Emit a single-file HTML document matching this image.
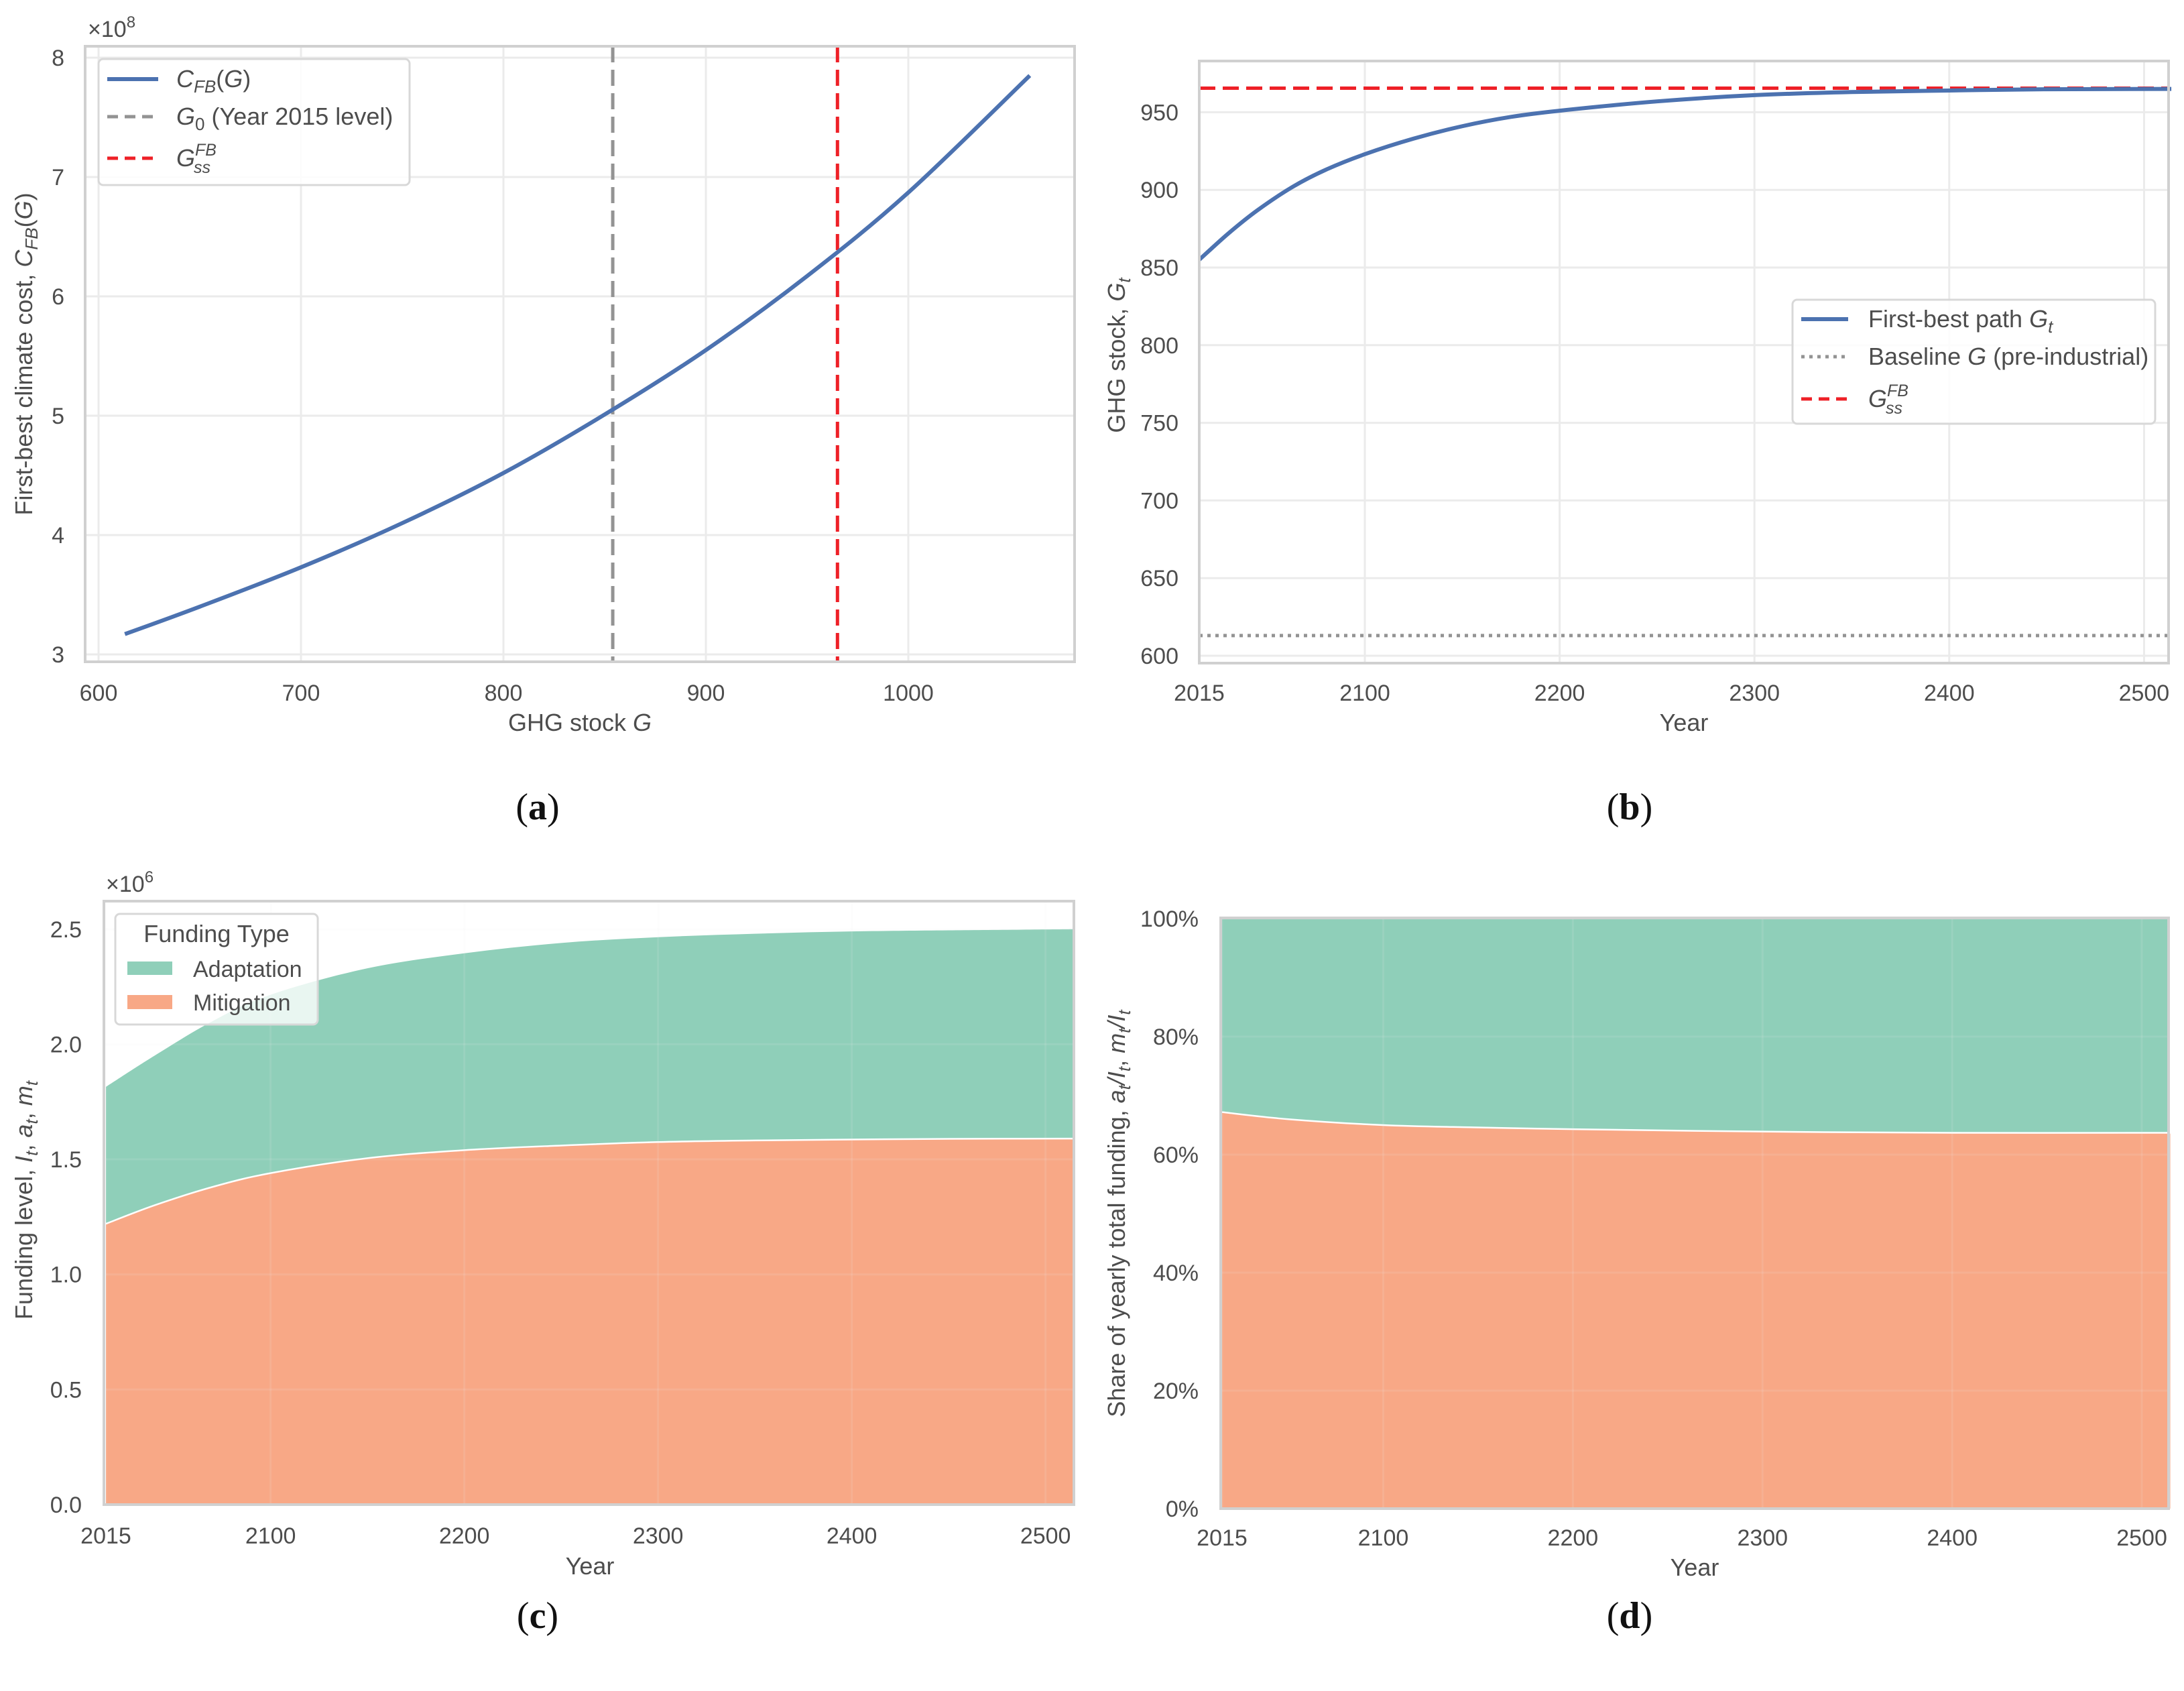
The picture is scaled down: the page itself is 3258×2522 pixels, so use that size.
<!DOCTYPE html>
<html><head><meta charset="utf-8"><style>
html,body{margin:0;padding:0;background:#fff;}
svg{display:block;font-family:"Liberation Sans",sans-serif;}
.tk{font-size:34px;fill:#4d4d4d;}
.lb{font-size:36px;fill:#4d4d4d;}
.cap{font-family:"Liberation Serif",serif;font-size:56px;fill:#111;}
</style></head><body>
<svg id="fig" width="3258" height="2522" viewBox="0 0 3258 2522" xmlns="http://www.w3.org/2000/svg">
<g id="ga"></g>
<g id="gb"></g>
<g id="gc"></g>
<g id="gd"></g>
<text class="cap" x="802" y="1222" text-anchor="middle">(<tspan font-weight="bold">a</tspan>)</text>
<text class="cap" x="2431" y="1222" text-anchor="middle">(<tspan font-weight="bold">b</tspan>)</text>
<text class="cap" x="802" y="2428" text-anchor="middle">(<tspan font-weight="bold">c</tspan>)</text>
<text class="cap" x="2431" y="2428" text-anchor="middle">(<tspan font-weight="bold">d</tspan>)</text>
</svg>
<script>
// Panel (a) data
const aG = [613, 650, 700, 750, 800, 850, 900, 950, 1000, 1060];
const aCost = [3.17, 3.40, 3.73, 4.10, 4.52, 5.01, 5.55, 6.17, 6.87, 7.85];
const aXTicks = [600, 700, 800, 900, 1000];
const aYTicks = [3, 4, 5, 6, 7, 8];
const aG0 = 854;
const aGss = 965;
// Panel (b) data
const bYears = [2015, 2030, 2045, 2063, 2080, 2100, 2125, 2150, 2175, 2200, 2250, 2300, 2350, 2400, 2450, 2514];
const bG = [855, 872, 887, 902, 913, 923, 933, 941, 947, 951, 957, 961, 963, 964, 964.8, 965];
const bXTicks = [2015, 2100, 2200, 2300, 2400, 2500];
const bYTicks = [600, 650, 700, 750, 800, 850, 900, 950];
const bBaseline = 613;
const bGss = 965.5;
// Panel (c) data (x1e6)
const cYears = [2015, 2040, 2070, 2100, 2150, 2200, 2250, 2300, 2350, 2400, 2450, 2515];
const cMit = [1.22, 1.30, 1.38, 1.44, 1.505, 1.54, 1.56, 1.575, 1.582, 1.586, 1.589, 1.59];
const cTotal = [1.815, 1.95, 2.10, 2.215, 2.33, 2.395, 2.44, 2.465, 2.48, 2.49, 2.495, 2.50];
const cXTicks = [2015, 2100, 2200, 2300, 2400, 2500];
const cYTicks = [0, 0.5, 1.0, 1.5, 2.0, 2.5];
// Panel (d) data (mitigation share, %)
const dYears = [2015, 2050, 2100, 2150, 2200, 2300, 2400, 2515];
const dMitShare = [67.2, 66.0, 65.0, 64.6, 64.3, 63.9, 63.7, 63.7];
const dXTicks = [2015, 2100, 2200, 2300, 2400, 2500];
const dYTicks = [0, 20, 40, 60, 80, 100];

const NS = "http://www.w3.org/2000/svg";
function mk(parent, tag, attrs, text) {
  const e = document.createElementNS(NS, tag);
  for (const k in attrs) e.setAttribute(k, attrs[k]);
  if (text !== undefined) e.textContent = text;
  parent.appendChild(e);
  return e;
}
function smooth(pts) {
  let d = "M" + pts[0][0] + "," + pts[0][1];
  for (let i = 0; i < pts.length - 1; i++) {
    const p0 = pts[Math.max(0, i - 1)], p1 = pts[i], p2 = pts[i + 1], p3 = pts[Math.min(pts.length - 1, i + 2)];
    const c1 = [p1[0] + (p2[0] - p0[0]) / 6, p1[1] + (p2[1] - p0[1]) / 6];
    const c2 = [p2[0] - (p3[0] - p1[0]) / 6, p2[1] - (p3[1] - p1[1]) / 6];
    d += " C" + c1[0] + "," + c1[1] + " " + c2[0] + "," + c2[1] + " " + p2[0] + "," + p2[1];
  }
  return d;
}
const GRID = "#ebebeb", FRAME = "#d0d0d0", BLUE = "#4c72b0", RED = "#ee2027", GRAY = "#939393";
const GREEN = "#8fcfb9", ORANGE = "#f8a886";

// ---------- Panel A ----------
(function () {
  const g = document.getElementById("ga");
  const L = 127, T = 69, R = 1603, B = 987;
  const x = v => 147 + (v - 600) * 3.02;
  const y = v => 86 + (8 - v) * 178;
  aXTicks.forEach(t => {
    const ln = mk(g, "line", {x1: x(t), x2: x(t), y1: T, y2: B, stroke: GRID, "stroke-width": 3});
    
    
    const tx = mk(g, "text", {x: x(t), y: 1045, "text-anchor": "middle", class: "tk"}, String(t));
    
    
  });
  aYTicks.forEach(t => {
    const ln = mk(g, "line", {x1: L, x2: R, y1: y(t), y2: y(t), stroke: GRID, "stroke-width": 3});
    
    
    const tx = mk(g, "text", {x: 96, y: y(t) + 12, "text-anchor": "end", class: "tk"}, String(t));
    
    
  });
  const g0 = mk(g, "line", {x1: x(aG0), x2: x(aG0), y1: T, y2: B, stroke: GRAY, "stroke-width": 5, "stroke-dasharray": "24 11"});
  
  
  const gs = mk(g, "line", {x1: x(aGss), x2: x(aGss), y1: T, y2: B, stroke: RED, "stroke-width": 5, "stroke-dasharray": "24 11"});
  
  
  const pts = aG.map((v, i) => [x(v), y(aCost[i])]);
  const cv = mk(g, "path", {d: smooth(pts), fill: "none", stroke: BLUE, "stroke-width": 6});
  
  
  const fr = mk(g, "rect", {x: L, y: T, width: R - L, height: B - T, fill: "none", stroke: FRAME, "stroke-width": 4});
  
  
  const m = mk(g, "text", {x: 131, y: 55, class: "tk", "font-size": "32"});
  m.innerHTML = '×10<tspan dy="-14" font-size="24">8</tspan>';
  
  
  const xl = mk(g, "text", {x: 865, y: 1090, "text-anchor": "middle", class: "lb"});
  xl.innerHTML = 'GHG stock <tspan font-style="italic">G</tspan>';
  
  
  const yl = mk(g, "text", {x: 0, y: 0, "text-anchor": "middle", class: "lb", transform: "translate(48,528) rotate(-90)"});
  yl.innerHTML = 'First-best climate cost, <tspan font-style="italic">C</tspan><tspan font-style="italic" font-size="26" dy="8">FB</tspan><tspan dy="-8">(</tspan><tspan font-style="italic">G</tspan>)';
  
  
  const lg = mk(g, "g", {});
  
  
  mk(lg, "rect", {x: 147, y: 88, width: 464, height: 188, rx: 7, fill: "#fff", "fill-opacity": 0.85, stroke: "#d8d8d8", "stroke-width": 3});
  const e1 = mk(lg, "line", {x1: 160, x2: 236, y1: 118, y2: 118, stroke: BLUE, "stroke-width": 6});
  
  
  const t1 = mk(lg, "text", {x: 263, y: 130, class: "lb"});
  t1.innerHTML = '<tspan font-style="italic">C</tspan><tspan font-style="italic" font-size="26" dy="8">FB</tspan><tspan dy="-8">(</tspan><tspan font-style="italic">G</tspan>)';
  const e2 = mk(lg, "line", {x1: 160, x2: 236, y1: 174, y2: 174, stroke: GRAY, "stroke-width": 5, "stroke-dasharray": "16 10"});
  
  
  const t2 = mk(lg, "text", {x: 263, y: 186, class: "lb"});
  t2.innerHTML = '<tspan font-style="italic">G</tspan><tspan font-size="26" dy="8">0</tspan><tspan dy="-8"> (Year 2015 level)</tspan>';
  const e3 = mk(lg, "line", {x1: 160, x2: 236, y1: 236, y2: 236, stroke: RED, "stroke-width": 5, "stroke-dasharray": "16 10"});
  
  
  const t3 = mk(lg, "text", {x: 263, y: 248, class: "lb"});
  t3.innerHTML = '<tspan font-style="italic">G</tspan><tspan font-style="italic" font-size="25" dy="-16">FB</tspan><tspan font-style="italic" font-size="25" dx="-34" dy="26">ss</tspan>';
})();

// ---------- Panel B ----------
(function () {
  const g = document.getElementById("gb");
  const L = 1789, T = 91, R = 3235, B = 989;
  const x = v => 1789 + (v - 2015) * 2.906;
  const y = v => 978 - (v - 600) * 2.316;
  bXTicks.forEach(t => {
    const ln = mk(g, "line", {x1: x(t), x2: x(t), y1: T, y2: B, stroke: GRID, "stroke-width": 3});
    
    
    const tx = mk(g, "text", {x: x(t), y: 1045, "text-anchor": "middle", class: "tk"}, String(t));
    
    
  });
  bYTicks.forEach(t => {
    const ln = mk(g, "line", {x1: L, x2: R, y1: y(t), y2: y(t), stroke: GRID, "stroke-width": 3});
    
    
    const tx = mk(g, "text", {x: 1758, y: y(t) + 12, "text-anchor": "end", class: "tk"}, String(t));
    
    
  });
  const bl = mk(g, "line", {x1: L, x2: R, y1: y(bBaseline), y2: y(bBaseline), stroke: GRAY, "stroke-width": 5, "stroke-dasharray": "5 7"});
  
  
  const gs = mk(g, "line", {x1: L, x2: R, y1: y(bGss), y2: y(bGss), stroke: RED, "stroke-width": 5, "stroke-dasharray": "24 11"});
  
  
  const pts = bYears.map((v, i) => [x(v), y(bG[i])]);
  const cv = mk(g, "path", {d: smooth(pts), fill: "none", stroke: BLUE, "stroke-width": 6});
  
  
  const fr = mk(g, "rect", {x: L, y: T, width: R - L, height: B - T, fill: "none", stroke: FRAME, "stroke-width": 4});
  
  
  const xl = mk(g, "text", {x: 2512, y: 1090, "text-anchor": "middle", class: "lb"}, "Year");
  
  
  const yl = mk(g, "text", {x: 0, y: 0, "text-anchor": "middle", class: "lb", transform: "translate(1678,530) rotate(-90)"});
  yl.innerHTML = 'GHG stock, <tspan font-style="italic">G</tspan><tspan font-style="italic" font-size="26" dy="8">t</tspan>';
  
  
  const lg = mk(g, "g", {});
  
  
  mk(lg, "rect", {x: 2674, y: 447, width: 541, height: 185, rx: 7, fill: "#fff", "fill-opacity": 0.85, stroke: "#d8d8d8", "stroke-width": 3});
  const e1 = mk(lg, "line", {x1: 2687, x2: 2757, y1: 476, y2: 476, stroke: BLUE, "stroke-width": 6});
  
  
  const t1 = mk(lg, "text", {x: 2787, y: 488, class: "lb"});
  t1.innerHTML = 'First-best path <tspan font-style="italic">G</tspan><tspan font-style="italic" font-size="26" dy="8">t</tspan>';
  const e2 = mk(lg, "line", {x1: 2687, x2: 2757, y1: 532, y2: 532, stroke: GRAY, "stroke-width": 5, "stroke-dasharray": "5 7"});
  
  
  const t2 = mk(lg, "text", {x: 2787, y: 544, class: "lb"});
  t2.innerHTML = 'Baseline <tspan font-style="italic">G</tspan> (pre-industrial)';
  const e3 = mk(lg, "line", {x1: 2687, x2: 2757, y1: 595, y2: 595, stroke: RED, "stroke-width": 5, "stroke-dasharray": "16 10"});
  
  
  const t3 = mk(lg, "text", {x: 2787, y: 607, class: "lb"});
  t3.innerHTML = '<tspan font-style="italic">G</tspan><tspan font-style="italic" font-size="25" dy="-16">FB</tspan><tspan font-style="italic" font-size="25" dx="-34" dy="26">ss</tspan>';
})();

// ---------- Panel C ----------
(function () {
  const g = document.getElementById("gc");
  const L = 155, T = 1344, R = 1602, B = 2244;
  const x = v => 158 + (v - 2015) * 2.89;
  const y = v => 2244 - v * 343.3;
  const topPts = cYears.map((v, i) => [x(v), y(cTotal[i])]);
  const midPts = cYears.map((v, i) => [x(v), y(cMit[i])]);
  const midRev = midPts.slice().reverse();
  const adapt = mk(g, "path", {d: smooth(topPts) + " L" + midRev.map(p => p.join(",")).join(" L") + " Z", fill: GREEN});
  
  
  const mit = mk(g, "path", {d: smooth(midPts) + " L" + x(cYears[cYears.length - 1]) + "," + y(0) + " L" + x(cYears[0]) + "," + y(0) + " Z", fill: ORANGE});
  
  
  const edge = mk(g, "path", {d: smooth(midPts), fill: "none", stroke: "#fff", "stroke-width": 2.5});
  
  
  cXTicks.forEach(t => {
    const ln = mk(g, "line", {x1: x(t), x2: x(t), y1: T, y2: B, stroke: GRID, "stroke-width": 3, "stroke-opacity": 0.12});
    
    
    const tx = mk(g, "text", {x: x(t), y: 2302, "text-anchor": "middle", class: "tk"}, String(t));
    
    
  });
  cYTicks.forEach(t => {
    const ln = mk(g, "line", {x1: L, x2: R, y1: y(t), y2: y(t), stroke: GRID, "stroke-width": 3, "stroke-opacity": 0.12});
    
    
    const tx = mk(g, "text", {x: 122, y: y(t) + 12, "text-anchor": "end", class: "tk"}, t.toFixed(1));
    
    
  });
  const fr = mk(g, "rect", {x: L, y: T, width: R - L, height: B - T, fill: "none", stroke: FRAME, "stroke-width": 4});
  
  
  const m = mk(g, "text", {x: 158, y: 1330, class: "tk", "font-size": "32"});
  m.innerHTML = '×10<tspan dy="-14" font-size="24">6</tspan>';
  
  
  const xl = mk(g, "text", {x: 880, y: 2348, "text-anchor": "middle", class: "lb"}, "Year");
  
  
  const yl = mk(g, "text", {x: 0, y: 0, "text-anchor": "middle", class: "lb", transform: "translate(48,1790) rotate(-90)"});
  yl.innerHTML = 'Funding level, <tspan font-style="italic">I</tspan><tspan font-style="italic" font-size="26" dy="8">t</tspan><tspan dy="-8">, </tspan><tspan font-style="italic">a</tspan><tspan font-style="italic" font-size="26" dy="8">t</tspan><tspan dy="-8">, </tspan><tspan font-style="italic">m</tspan><tspan font-style="italic" font-size="26" dy="8">t</tspan>';
  
  
  const lg = mk(g, "g", {});
  
  
  mk(lg, "rect", {x: 172, y: 1363, width: 302, height: 165, rx: 7, fill: "#fff", "fill-opacity": 0.8, stroke: "#d8d8d8", "stroke-width": 3});
  const tt = mk(lg, "text", {x: 323, y: 1405, "text-anchor": "middle", class: "lb"}, "Funding Type");
  
  
  const p1 = mk(lg, "rect", {x: 190, y: 1434, width: 67, height: 20, fill: GREEN});
  
  
  mk(lg, "text", {x: 288, y: 1457, class: "tk"}, "Adaptation");
  const p2 = mk(lg, "rect", {x: 190, y: 1484, width: 67, height: 21, fill: ORANGE});
  
  
  mk(lg, "text", {x: 288, y: 1507, class: "tk"}, "Mitigation");
})();

// ---------- Panel D ----------
(function () {
  const g = document.getElementById("gd");
  const L = 1821, T = 1369, R = 3235, B = 2250;
  const x = v => 1823 + (v - 2015) * 2.829;
  const y = v => 2250 - v * 8.8;
  const bg = mk(g, "rect", {x: L, y: y(100), width: R - L, height: y(0) - y(100), fill: GREEN});
  
  
  const pts = dYears.map((v, i) => [x(v), y(dMitShare[i])]);
  const mit = mk(g, "path", {d: smooth(pts) + " L" + x(dYears[dYears.length - 1]) + "," + y(0) + " L" + x(dYears[0]) + "," + y(0) + " Z", fill: ORANGE});
  
  
  const edge = mk(g, "path", {d: smooth(pts), fill: "none", stroke: "#fff", "stroke-width": 2.5});
  
  
  dXTicks.forEach(t => {
    const ln = mk(g, "line", {x1: x(t), x2: x(t), y1: T, y2: B, stroke: GRID, "stroke-width": 3, "stroke-opacity": 0.12});
    
    
    const tx = mk(g, "text", {x: x(t), y: 2305, "text-anchor": "middle", class: "tk"}, String(t));
    
    
  });
  dYTicks.forEach(t => {
    const ln = mk(g, "line", {x1: L, x2: R, y1: y(t), y2: y(t), stroke: GRID, "stroke-width": 3, "stroke-opacity": 0.12});
    
    
    const tx = mk(g, "text", {x: 1788, y: y(t) + 12, "text-anchor": "end", class: "tk"}, t + "%");
    
    
  });
  const fr = mk(g, "rect", {x: L, y: T, width: R - L, height: B - T, fill: "none", stroke: FRAME, "stroke-width": 4});
  
  
  const xl = mk(g, "text", {x: 2528, y: 2350, "text-anchor": "middle", class: "lb"}, "Year");
  
  
  const yl = mk(g, "text", {x: 0, y: 0, "text-anchor": "middle", class: "lb", transform: "translate(1678,1810) rotate(-90)"});
  yl.innerHTML = 'Share of yearly total funding, <tspan font-style="italic">a</tspan><tspan font-style="italic" font-size="26" dy="8">t</tspan><tspan dy="-8" font-style="italic">/I</tspan><tspan font-style="italic" font-size="26" dy="8">t</tspan><tspan dy="-8">, </tspan><tspan font-style="italic">m</tspan><tspan font-style="italic" font-size="26" dy="8">t</tspan><tspan dy="-8" font-style="italic">/I</tspan><tspan font-style="italic" font-size="26" dy="8">t</tspan>';
  
  
})();
</script>
</body></html>
